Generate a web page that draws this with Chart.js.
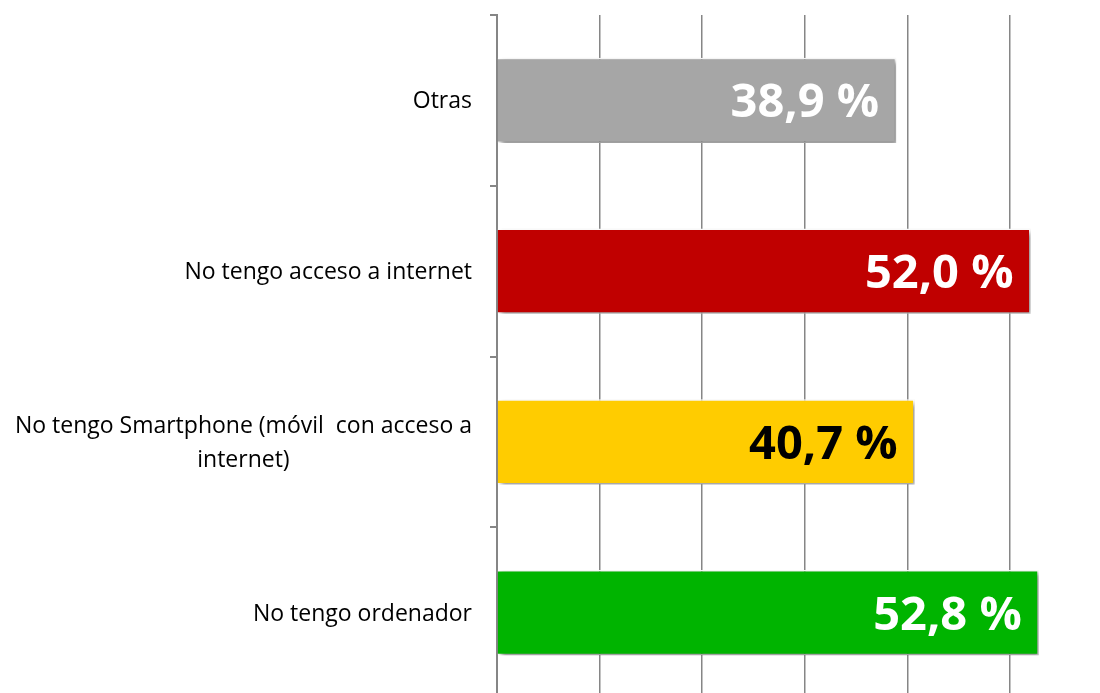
<!DOCTYPE html>
<html>
<head>
<meta charset="utf-8">
<script src="https://cdn.jsdelivr.net/npm/chart.js@4/dist/chart.umd.min.js"></script>
<style>
    html, body { margin: 0; padding: 0; background: #fff; overflow: hidden; }
    #wrap { position: relative; width: 1100px; height: 698px; }
</style>
</head>
<body>
<div id="wrap"><canvas id="barChart"></canvas></div>
<script>
var categories = [
    'Otras',
    'No tengo acceso a internet',
    ['No tengo Smartphone (móvil  con acceso a', 'internet)'],
    'No tengo ordenador'
];
var percentages = [38.9, 52.0, 40.7, 52.8];
var barColors = ['#a6a6a6', '#c00000', '#ffcc00', '#00b400'];
var valueTextColors = ['#ffffff', '#ffffff', '#000000', '#ffffff'];
var gridTicks = [0, 10, 20, 30, 40, 50];

var axisGray = '#868686';

function formatPercent(v) {
    return v.toFixed(1).replace('.', ',') + ' %';
}

// soft shadow under the bars only
var barShadow = {
    id: 'barShadow',
    beforeDatasetsDraw: function(chart) {
        var ctx = chart.ctx;
        ctx.save();
        ctx.shadowColor = 'rgba(0, 0, 0, 0.45)';
        ctx.shadowBlur = 5;
        ctx.shadowOffsetX = 3;
        ctx.shadowOffsetY = 3;
    },
    afterDatasetsDraw: function(chart) {
        chart.ctx.restore();
    }
};

// value text inside the end of each bar
var valueLabels = {
    id: 'valueLabels',
    afterDatasetsDraw: function(chart) {
        var ctx = chart.ctx;
        var meta = chart.getDatasetMeta(0);
        ctx.save();
        ctx.font = 'bold 47px "Open Sans"';
        ctx.textAlign = 'right';
        ctx.textBaseline = 'alphabetic';
        meta.data.forEach(function(bar, i) {
            ctx.fillStyle = valueTextColors[i];
            ctx.fillText(formatPercent(percentages[i]), bar.x - 17, bar.y + 17);
        });
        ctx.restore();
    }
};

// category labels: right aligned, wrapped lines centred under the first one
var categoryLabels = {
    id: 'categoryLabels',
    afterDraw: function(chart) {
        var ctx = chart.ctx;
        var yScale = chart.scales.y;
        var rightEdge = yScale.right - 25;
        var lineHeight = 34;
        ctx.save();
        ctx.font = '23px "Open Sans"';
        ctx.fillStyle = '#000000';
        ctx.textBaseline = 'alphabetic';
        categories.forEach(function(label, i) {
            var lines = Array.isArray(label) ? label : [label];
            var cy = yScale.getPixelForValue(i);
            var widest = 0;
            lines.forEach(function(l) { widest = Math.max(widest, ctx.measureText(l).width); });
            var top = cy - (lines.length - 1) * lineHeight / 2;
            lines.forEach(function(l, k) {
                var y = top + k * lineHeight + 8;
                if (lines.length > 1) {
                    ctx.textAlign = 'center';
                    ctx.fillText(l, rightEdge - widest / 2, y);
                } else {
                    ctx.textAlign = 'right';
                    ctx.fillText(l, rightEdge, y);
                }
            });
        });
        ctx.restore();
    }
};

function createBarChart() {
    var canvas = document.getElementById('barChart');
    new Chart(canvas, {
        type: 'bar',
        data: {
            labels: categories,
            datasets: [{
                data: percentages,
                backgroundColor: barColors,
                borderColor: '#ffffff',
                borderWidth: 1.5,
                barPercentage: 0.5,
                categoryPercentage: 1
            }]
        },
        options: {
            indexAxis: 'y',
            responsive: true,
            maintainAspectRatio: false,
            animation: false,
            layout: { padding: { top: 15, right: 0, bottom: 0, left: 0 } },
            plugins: {
                legend: { display: false },
                tooltip: { enabled: false }
            },
            scales: {
                x: {
                    min: 0,
                    max: 58.77,
                    afterBuildTicks: function(scale) {
                        scale.ticks = gridTicks.map(function(v) { return { value: v }; });
                    },
                    ticks: { display: false },
                    border: { display: false },
                    grid: { color: axisGray, lineWidth: 1.5, drawTicks: false }
                },
                y: {
                    afterFit: function(scale) { scale.width = 497; },
                    ticks: { display: false },
                    border: { display: true, color: axisGray, width: 2 },
                    grid: {
                        offset: true,
                        drawOnChartArea: false,
                        drawTicks: true,
                        tickLength: 7,
                        color: axisGray,
                        lineWidth: 2
                    }
                }
            }
        },
        plugins: [barShadow, valueLabels, categoryLabels]
    });
}

window.onload = function() {
    createBarChart();
};
</script>
</body>
</html>
